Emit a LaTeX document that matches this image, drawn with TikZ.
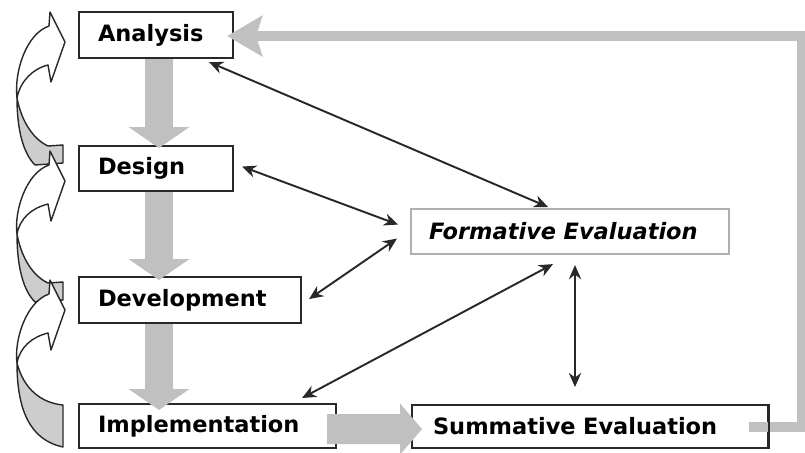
\documentclass[tikz,border=0pt]{standalone}
\usepackage{fontspec}
\setmainfont{DejaVu Sans}
\usetikzlibrary{arrows.meta,calc}
\definecolor{blk}{RGB}{40,40,40}
\definecolor{bgray}{RGB}{192,192,192}
\definecolor{fgray}{RGB}{175,175,175}
\definecolor{cgray}{RGB}{205,205,205}
\newcommand{\cvwhitepath}[1]{(49,-16) -- (50,-30) -- (65,0) -- (51,40) -- (48,23) .. controls (32,27) and (20,#1-16) .. (17,#1) .. controls (14,30) and (26,-8) .. (49,-16) -- cycle}
\begin{document}
\begin{tikzpicture}[x=0.02cm,y=-0.02cm,
  bx/.style={draw=blk, line width=1.2pt, fill=white, anchor=north west, align=left,
    inner ysep=0pt, font=\bfseries\fontsize{12.8}{15}\selectfont},
  conn/.style={draw=blk, line width=1.1pt, {Stealth[length=8pt,width=7pt]}-{Stealth[length=8pt,width=7pt]}},
  blockarrow/.style={draw=bgray, line width=0.56cm, -{Triangle[length=0.42cm,width=1.2cm]}},
  curvearrow/.style={draw=blk, line width=0.8pt, line join=round},
  feedback/.style={draw=bgray, line width=0.2cm, -{Stealth[length=0.7cm,width=0.8cm,inset=0.12cm]}}
]
\useasboundingbox (0,0) rectangle (805,453);

% curved arrows on the left
\begin{scope}[shift={(0,42)}]
  \filldraw[curvearrow, fill=cgray] (17,56) .. controls (17,90) and (24,112) .. (35,123) -- (63,121) -- (63,103) -- (48,104) .. controls (35,98) and (22,82) .. (17,56) -- cycle;
  \filldraw[curvearrow, fill=white] \cvwhitepath{56};
\end{scope}
\begin{scope}[shift={(0,181)}]
  \filldraw[curvearrow, fill=cgray] (17,53) .. controls (17,88) and (24,110) .. (35,121) -- (63,119) -- (63,101) -- (48,102) .. controls (35,96) and (22,80) .. (17,53) -- cycle;
  \filldraw[curvearrow, fill=white] \cvwhitepath{53};
\end{scope}
\begin{scope}[shift={(0,310)}]
  \filldraw[curvearrow, fill=cgray] (17,53) .. controls (17,100) and (30,130) .. (63,137) -- (63,95) .. controls (42,93) and (24,80) .. (17,53) -- cycle;
  \filldraw[curvearrow, fill=white] \cvwhitepath{53};
\end{scope}

% boxes
\node[bx, inner xsep=0.38cm, text width=2.32cm, minimum height=0.92cm] (A) at (78,11) {Analysis};
\node[bx, inner xsep=0.38cm, text width=2.32cm, minimum height=0.90cm] (D) at (78,145) {Design};
\node[bx, inner xsep=0.38cm, text width=3.68cm, minimum height=0.92cm] (Dv) at (78,276) {Development};
\node[bx, inner xsep=0.38cm, text width=4.38cm, minimum height=0.88cm] (I) at (78,403) {Implementation};
\node[bx, draw=fgray, line width=1.2pt, inner xsep=0.36cm, text width=5.64cm, minimum height=0.90cm,
  font=\bfseries\itshape\fontsize{12.8}{15}\selectfont] (F) at (410,208) {Formative Evaluation};
\node[bx, inner xsep=0.42cm, text width=6.28cm, minimum height=0.86cm] (S) at (411,404) {Summative Evaluation};

% gray block arrows
\draw[blockarrow] ($(A.south west)+(81,0)$) -- ($(D.north west)+(81,3)$);
\draw[blockarrow] ($(D.south west)+(81,0)$) -- ($(Dv.north west)+(81,4)$);
\draw[blockarrow] ($(Dv.south west)+(81,0)$) -- ($(I.north west)+(81,7)$);
\draw[draw=bgray, line width=0.6cm, -{Triangle[length=0.44cm,width=1.0cm]}] ($(I.east)+(-10,3)$) -- ($(S.west)+(11,2.5)$);

% feedback line
\draw[feedback] ($(S.east)+(-20,0.5)$) -- ($(S.east)+(33,0.5)$) |- ($(A.east)+(-7,1)$);
\draw[draw=blk, line width=1.2pt] (S.north east) -- (S.south east);

% black double arrows
\draw[conn] ($(A.south east)+(-25,3)$) -- ($(F.north west)+(138,-1)$);
\draw[conn] ($(D.east)+(8,-2)$) -- ($(F.west)+(-12,-7)$);
\draw[conn] ($(Dv.east)+(7,-1)$) -- ($(F.west)+(-13,7)$);
\draw[conn] ($(I.north east)+(-35,-5)$) -- ($(F.south west)+(143,9)$);
\draw[conn] ($(F.south west)+(165,10)$) -- ($(S.north west)+(164,-17)$);
\end{tikzpicture}
\end{document}
